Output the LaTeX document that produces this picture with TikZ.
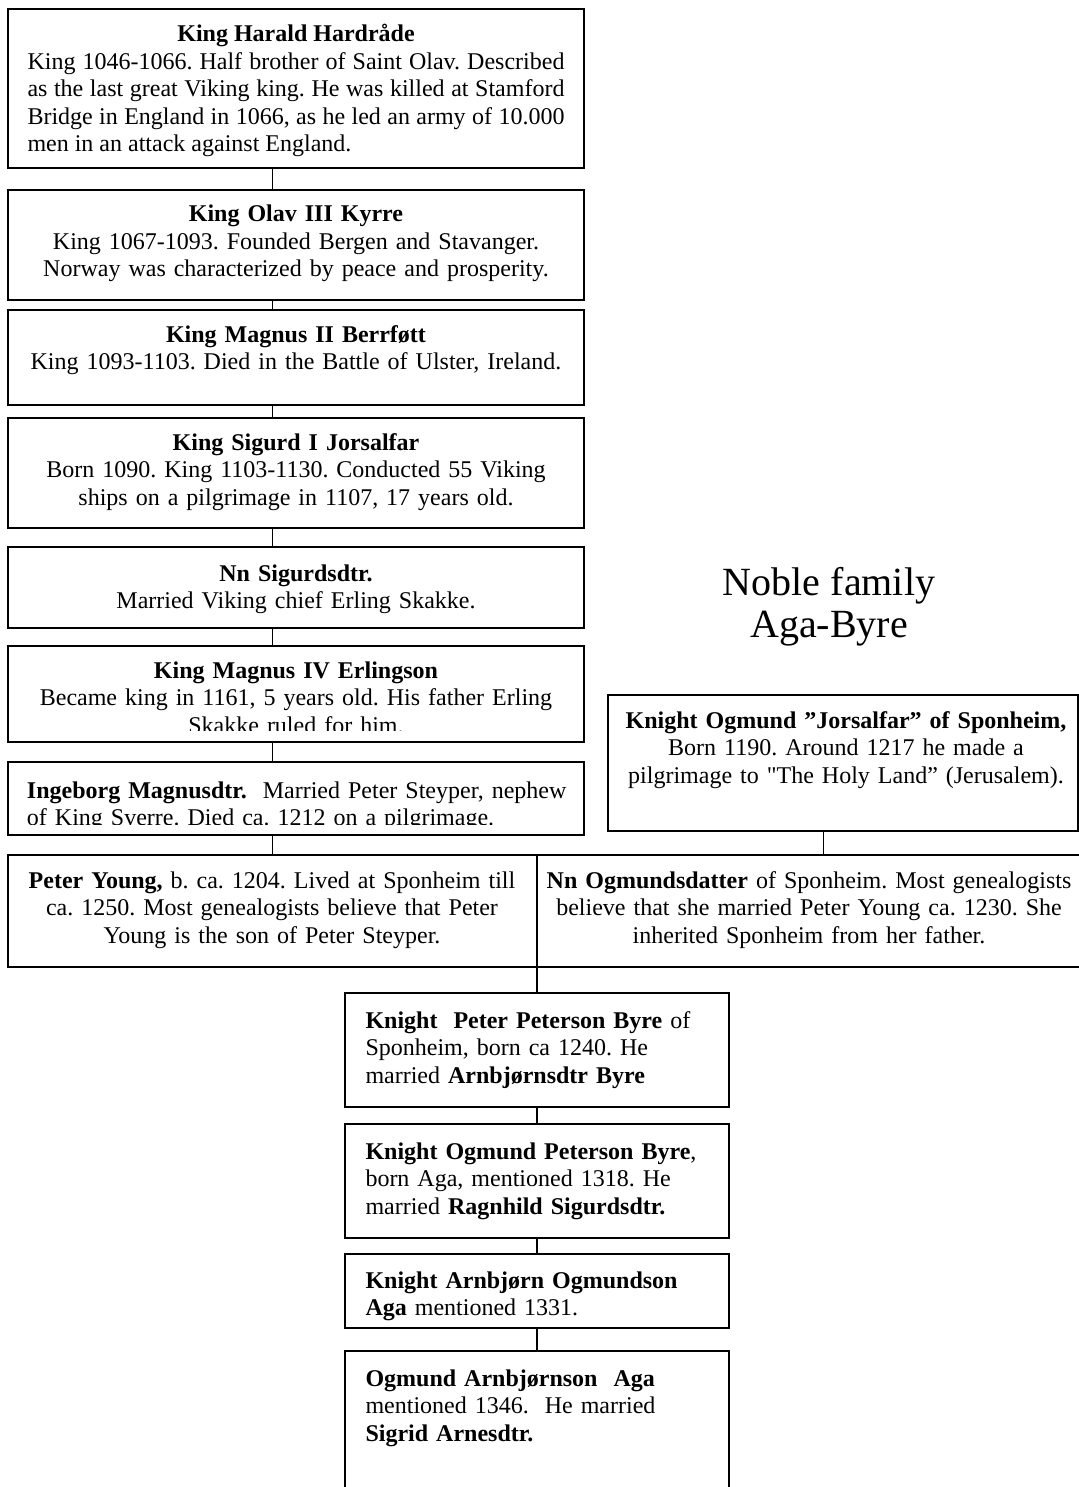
\documentclass[tikz,border=0pt]{standalone}
\usepackage{fontspec}
\setmainfont{Liberation Serif}[Ligatures=TeXOff]
\frenchspacing
\tikzset{
  box/.style={draw, line width=2pt, inner sep=0pt, outer sep=0pt, anchor=north west},
  txt/.style={inner sep=0pt, anchor=base, font=\fontsize{24}{27.5}\selectfont},
  link/.style={line width=1.5pt}
}

\begin{document}
\begin{tikzpicture}[x=1pt,y=-1pt]
  \useasboundingbox (0,0) rectangle (1078,1487);
  % Left-hand column: the kings
  \node[box, minimum width=576pt, minimum height=159pt] (harald)   at (8,9)   {};
  \node[box, minimum width=576pt, minimum height=110pt] (olav)     at (8,190) {};
  \node[box, minimum width=576pt, minimum height=95pt]  (magtwo)   at (8,310) {};
  \node[box, minimum width=576pt, minimum height=110pt] (sigurd)   at (8,418) {};
  \node[box, minimum width=576pt, minimum height=81pt]  (nnsig)    at (8,547) {};
  \node[box, minimum width=576pt, minimum height=96pt]  (magfour)  at (8,646) {};
  \node[box, minimum width=576pt, minimum height=73pt]  (ingeborg) at (8,762) {};
  \node[box, minimum width=529pt, minimum height=112pt] (peter)    at (8,855) {};
  \node[box, minimum width=573pt, minimum height=112pt] (nnogm)    at (537,855) {};
  \node[box, minimum width=470pt, minimum height=136pt] (ogmund)   at (608,695) {};
  % Right-hand side: title
  \node[inner sep=0pt, align=center, font=\fontsize{40}{42}\selectfont] (title) at (829,607)
    {Noble family\\Aga-Byre};
  % Bottom column: Aga-Byre
  \node[box, minimum width=384pt, minimum height=114pt] (byreone) at (345,993)  {};
  \node[box, minimum width=384pt, minimum height=114pt] (byretwo) at (345,1124) {};
  \node[box, minimum width=384pt, minimum height=74pt]  (agaone)  at (345,1254) {};
  \node[box, minimum width=384pt, minimum height=150pt] (agatwo)  at (345,1351) {};

  % texts
  \node[txt, text width=537pt, align=justify] at (296,42)
    {{\centering\textbf{King Harald Hardråde}\par}
     King 1046-1066. Half brother of Saint Olav. Described\linebreak
     as the last great Viking king. He was killed at Stamford\linebreak
     Bridge in England in 1066, as he led an army of 10.000\linebreak
     men in an attack against England.};
  \node[txt, text width=540pt, align=center] at (296,222)
    {\textbf{King Olav III Kyrre}\\King 1067-1093. Founded Bergen and Stavanger.\\
     Norway was characterized by peace and prosperity.};
  \node[txt, text width=540pt, align=center] at (296,342)
    {\textbf{King Magnus II Berrføtt}\\King 1093-1103. Died in the Battle of Ulster, Ireland.};
  \node[txt, text width=540pt, align=center] at (296,450)
    {\textbf{King Sigurd I Jorsalfar}\\Born 1090. King 1103-1130. Conducted 55 Viking\\
     ships on a pilgrimage in 1107, 17 years old.};
  \node[txt, text width=540pt, align=center] at (296,581)
    {\textbf{Nn Sigurdsdtr.}\\Married Viking chief Erling Skakke.};
  \begin{scope}
    \clip (magfour.north west) rectangle ([yshift=12pt]magfour.south east);
    \node[txt, text width=540pt, align=center] at (296,678)
      {\textbf{King Magnus IV Erlingson}\\Became king in 1161, 5 years old. His father Erling\\
       Skakke ruled for him.};
  \end{scope}
  \begin{scope}
    \clip (ingeborg.north west) rectangle ([yshift=11pt]ingeborg.south east);
    \node[txt, text width=556pt, align=left] at (305,798)
      {\textbf{Ingeborg Magnusdtr.}\ \ Married Peter Steyper, nephew\\
       of King Sverre. Died ca. 1212 on a pilgrimage.};
  \end{scope}
  \node[txt, text width=500pt, align=center] at (272,888)
    {\textbf{Peter Young,} b. ca. 1204. Lived at Sponheim till\\
     ca. 1250. Most genealogists believe that Peter\\Young is the son of Peter Steyper.};
  \node[txt, text width=530pt, align=center] at (809,888)
    {\textbf{Nn Ogmundsdatter} of Sponheim. Most genealogists\\
     believe that she married Peter Young ca. 1230. She\\inherited Sponheim from her father.};
  \node[txt, text width=450pt, align=center] at (846,728)
    {\textbf{Knight Ogmund ”Jorsalfar” of Sponheim,}\\Born 1190. Around 1217 he made a\\
     pilgrimage to "The Holy Land” (Jerusalem).};
  \node[txt, text width=345pt, align=left] at (538,1028)
    {\textbf{Knight\ \ Peter Peterson Byre} of\\Sponheim, born ca 1240. He\\
     married \textbf{Arnbjørnsdtr Byre}};
  \node[txt, text width=345pt, align=left] at (538,1159)
    {\textbf{Knight Ogmund Peterson Byre},\\born Aga, mentioned 1318. He\\
     married \textbf{Ragnhild Sigurdsdtr.}};
  \node[txt, text width=345pt, align=left] at (538,1288)
    {\textbf{Knight Arnbjørn Ogmundson}\\\textbf{Aga} mentioned 1331.};
  \node[txt, text width=345pt, align=left] at (538,1386)
    {\textbf{Ogmund Arnbjørnson\ \ Aga}\\mentioned 1346.\ \ He married\\
     \textbf{Sigrid Arnesdtr.}};

  % connectors
  \draw[link] (harald.south -| peter.north)   -- (olav.north -| peter.north);
  \draw[link] (olav.south -| peter.north)     -- (magtwo.north -| peter.north);
  \draw[link] (magtwo.south -| peter.north)   -- (sigurd.north -| peter.north);
  \draw[link] (sigurd.south -| peter.north)   -- (nnsig.north -| peter.north);
  \draw[link] (nnsig.south -| peter.north)    -- (magfour.north -| peter.north);
  \draw[link] (magfour.south -| peter.north)  -- (ingeborg.north -| peter.north);
  \draw[link] (ingeborg.south -| peter.north) -- (peter.north);
  \draw[link] (ogmund.south -| nnogm.north)   -- (nnogm.north);
  \draw[link] (peter.south east)              -- (byreone.north);
  \draw[link] (byreone.south) -- (byretwo.north);
  \draw[link] (byretwo.south) -- (agaone.north);
  \draw[link] (agaone.south)  -- (agatwo.north);
\end{tikzpicture}
\end{document}
